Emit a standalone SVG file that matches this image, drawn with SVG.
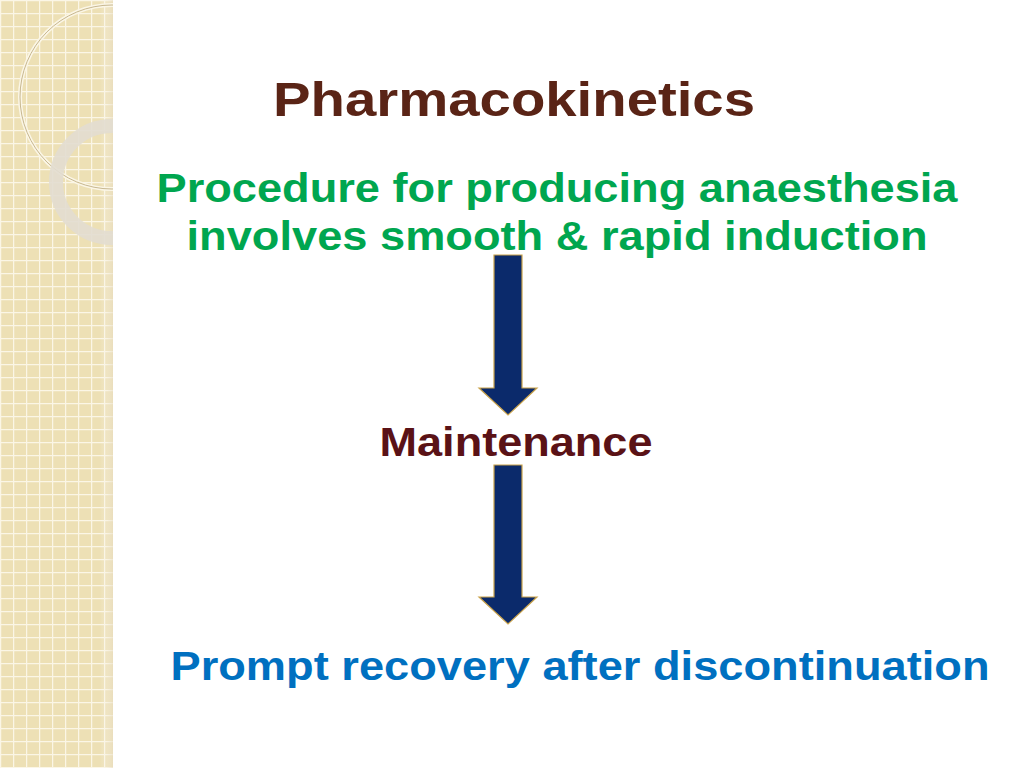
<svg xmlns="http://www.w3.org/2000/svg" width="1024" height="768" viewBox="0 0 1024 768">
<defs>
<pattern id="grid" width="13" height="13" patternUnits="userSpaceOnUse">
<rect width="13" height="13" fill="#ede0b5"/>
<path d="M0 0.5H13M0.5 0V13" stroke="#fbf6e6" stroke-width="1.5" fill="none"/>
</pattern>
<linearGradient id="fade" x1="0" x2="1">
<stop offset="0" stop-color="#fff" stop-opacity="0"/>
<stop offset="1" stop-color="#e8dcc0" stop-opacity="0.6"/>
</linearGradient>
<clipPath id="side"><rect width="113" height="768"/></clipPath>
<style>
.t{font-family:"Liberation Sans",Arial,sans-serif;font-weight:bold;text-anchor:middle}
.arr{fill:#0b2a6b;stroke:#c9a24a;stroke-width:1.2}
</style>
</defs>
<rect width="1024" height="768" fill="#fff"/>
<g id="sidebar" clip-path="url(#side)">
<rect width="113" height="768" fill="url(#grid)"/>
<rect x="100" width="13" height="768" fill="url(#fade)"/>
<circle cx="112" cy="97" r="92" fill="none" stroke="#fbf6e6" stroke-width="4"/>
<circle cx="112" cy="97" r="92" fill="none" stroke="#c8b890" stroke-width="1"/>
<circle cx="112" cy="182" r="56" fill="none" stroke="#e2ddd0" stroke-width="14" opacity="0.9"/>
</g>
<g id="title"><text class="t" x="514" y="116" font-size="48" fill="#5a2416" textLength="482" lengthAdjust="spacingAndGlyphs">Pharmacokinetics</text></g>
<g id="node1">
<text class="t" x="557" y="202" font-size="40" fill="#00a64f" textLength="801" lengthAdjust="spacingAndGlyphs">Procedure for producing anaesthesia</text>
<text class="t" x="557" y="250" font-size="40" fill="#00a64f" textLength="741" lengthAdjust="spacingAndGlyphs">involves smooth &amp; rapid induction</text>
</g>
<g id="node2"><text class="t" x="516" y="456" font-size="40" fill="#5a1216" textLength="273" lengthAdjust="spacingAndGlyphs">Maintenance</text></g>
<g id="node3"><text class="t" x="580" y="680" font-size="40" fill="#0070c0" textLength="819" lengthAdjust="spacingAndGlyphs">Prompt recovery after discontinuation</text></g>
<g id="connectors">
<path class="arr" d="M494 255H522V388H537L508 415L479 388H494Z"/>
<path class="arr" d="M494 465H522V597H537L508 624L479 597H494Z"/>
</g>
</svg>
